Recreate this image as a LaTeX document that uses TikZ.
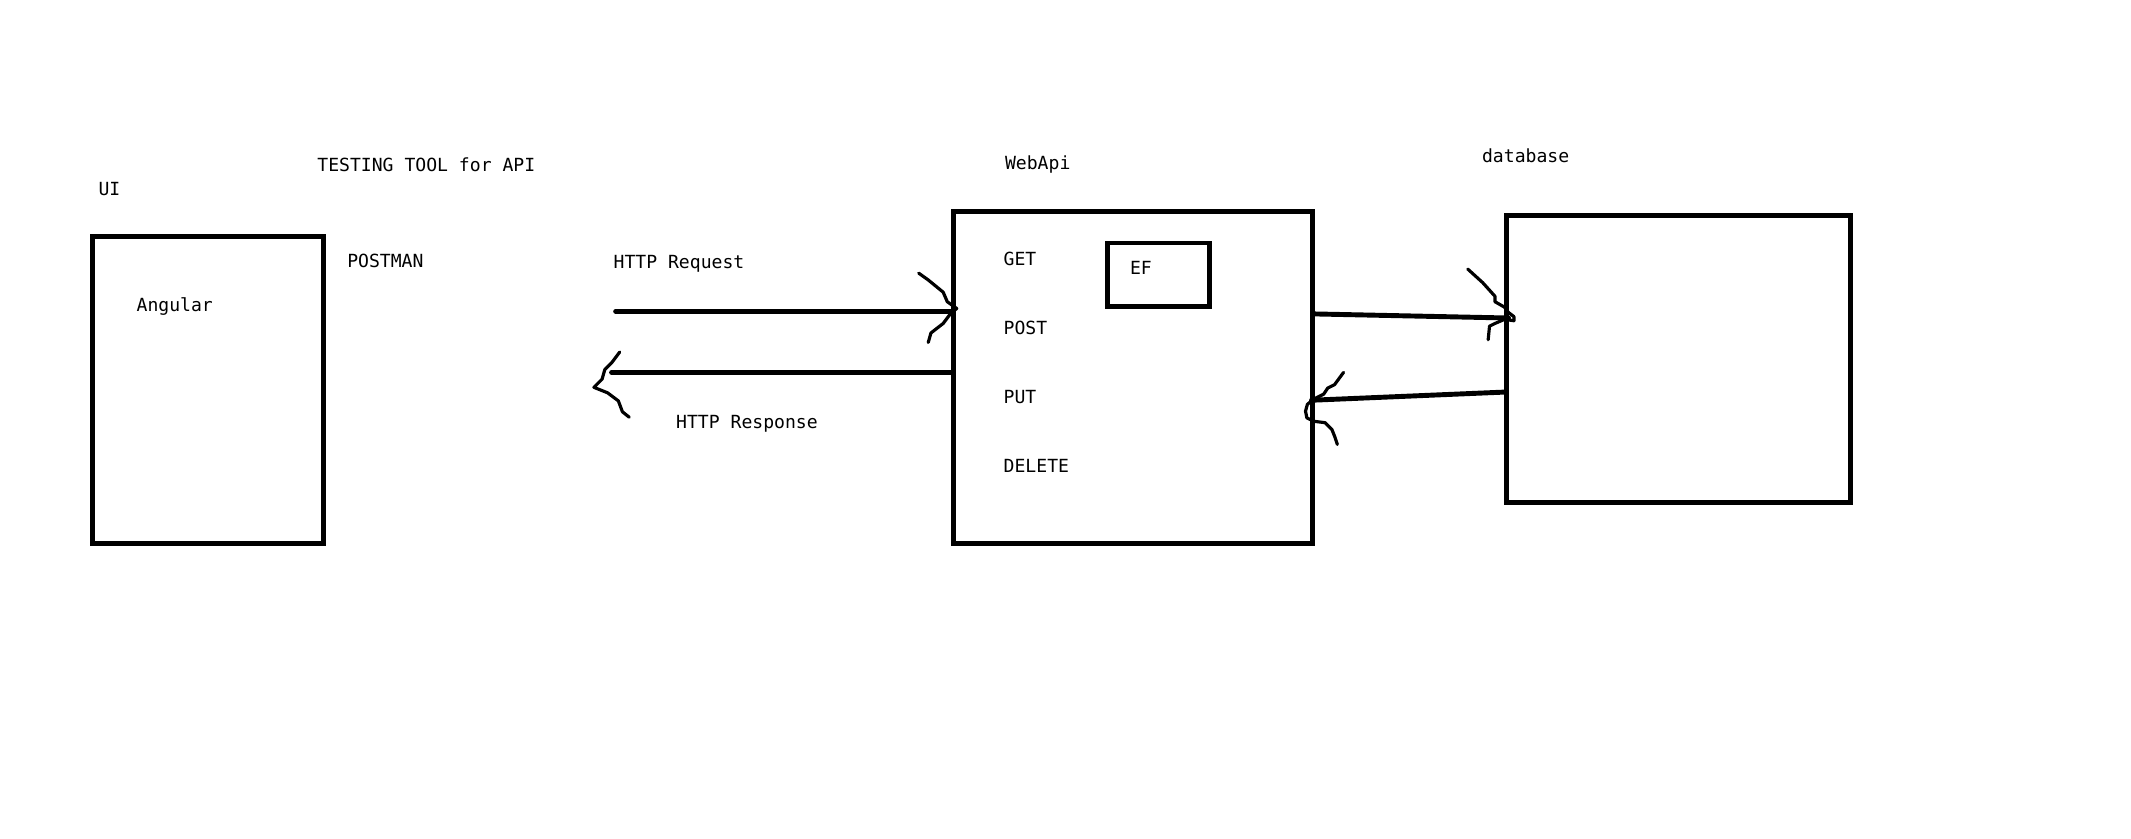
\documentclass[tikz,border=0pt]{standalone}
\usepackage{fontspec}
\newfontfamily\paintfont{DejaVu Sans Mono}
\usepackage{tikz}
\newcommand{\pxlen}{0.01359cm}

\begin{document}
\begin{tikzpicture}[x=\pxlen,y=-\pxlen,
    box/.style={draw,line width=1.4pt,inner sep=0pt,anchor=north west},
    lbl/.style={inner sep=0pt,anchor=base west,font=\paintfont\fontsize{5.15}{6}\selectfont},
    wire/.style={line width=1.4pt,line cap=round},
    tip/.style={line width=0.9pt,line join=round,line cap=round}]
	\useasboundingbox (0,0) rectangle (1568,617);
	% boxes
	\node[box,minimum width=170*\pxlen,minimum height=226*\pxlen] (ui) at (66,172) {};
	\node[box,minimum width=264*\pxlen,minimum height=244*\pxlen] (api) at (700,154) {};
	\node[box,minimum width=75*\pxlen,minimum height=47*\pxlen] (ef) at (813,177) {};
	\node[box,minimum width=253*\pxlen,minimum height=211*\pxlen] (db) at (1107,157) {};
	% labels
	\node[lbl] (uilbl) at (72,143.5) {UI};
	\node[lbl] (toollbl) at (233,126) {TESTING TOOL for API};
	\node[lbl] (postman) at (255,196.5) {POSTMAN};
	\node[lbl] (angular) at (100,229.5) {Angular};
	\node[lbl] (reqlbl) at (451,197.5) {HTTP Request};
	\node[lbl] (resplbl) at (497,315) {HTTP Response};
	\node[lbl] (apilbl) at (739,124.6) {WebApi};
	\node[lbl] (get) at (738,195.5) {GET};
	\node[lbl] (post) at (738,246.4) {POST};
	\node[lbl] (put) at (738,297) {PUT};
	\node[lbl] (delete) at (738,348) {DELETE};
	\node[lbl] (eflbl) at (831,202) {EF};
	\node[lbl] (dblbl) at (1090,119.5) {database};
	% request and response
	\coordinate (reqstart) at (453,229);
	\coordinate (respend) at (450,274);
	\draw[wire] (reqstart) -- (api.west |- reqstart);
	\draw[tip] (676,201) -- (683,206) -- (694,215) -- (697,222) -- (704,227) -- (700,230)
		-- (694,238) -- (685,245) -- (683,252);
	\draw[wire] (api.west |- respend) -- (respend);
	\draw[tip] (456,259) -- (450,267) -- (445,272) -- (443,279) -- (437,285) -- (447,289)
		-- (455,295) -- (458,303) -- (463,307);
	% webapi and database
	\coordinate (dbin) at (1110,234);
	\coordinate (apiin) at (965,294.5);
	\draw[wire] (api.east |- 0,231) -- (dbin);
	\draw[tip] (1080,198) -- (1091,208) -- (1100,218) -- (1100,222) -- (1107,226) -- (1110,230)
		-- (1114,233) -- (1114,236) -- (1107,235) -- (1100,238) -- (1096,240) -- (1095,250);
	\draw[wire] (db.west |- 0,288.5) -- (apiin);
	\draw[tip] (988.6,274) -- (982,283) -- (977,285.5) -- (974,290) -- (967,293.5) -- (962,297.5)
		-- (960.6,302.5) -- (961.6,307.5) -- (967,310) -- (975,311) -- (980,316) -- (982,321) -- (984,327);
\end{tikzpicture}
\end{document}
